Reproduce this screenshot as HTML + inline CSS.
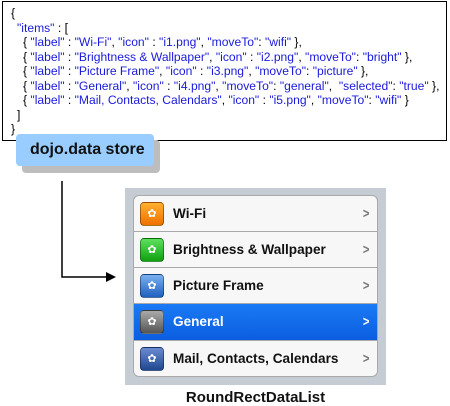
<!DOCTYPE html>
<html><head><style>
body{margin:0;width:450px;height:406px;background:#fff;position:relative;font-family:"Liberation Sans",sans-serif;overflow:hidden}
.json{position:absolute;left:2px;top:1px;width:445px;height:140px;border:1px solid #000;box-sizing:border-box;background:#fff}
.json div{position:absolute;font-size:12.1px;color:#1a1adb;white-space:pre;line-height:13px}
.json .k{color:#000}
.shadow{position:absolute;left:22px;top:140px;width:138px;height:33px;background:#bdbdbd;border-radius:4px}
.store{position:absolute;left:16px;top:134px;width:138px;height:32px;background:#99ccff;border-radius:4px;font-weight:bold;font-size:16px;line-height:32px;text-indent:14px;color:#111}
.panel{position:absolute;left:125px;top:188px;width:261px;height:197px;background:#c5ccd4}
.list{position:absolute;left:133px;top:195px;width:245px;height:182px;background:#f7f7f7;border:1px solid #a9a9a9;box-sizing:border-box;border-radius:6px;overflow:hidden}
.row{position:absolute;left:0;width:245px;height:36px;border-bottom:1px solid #a9a9a9;box-sizing:border-box}
.row span{position:absolute;left:39px;top:0;line-height:36px;font-weight:bold;font-size:13.6px;color:#111}
.row i{position:absolute;left:6px;top:6px;width:24px;height:24px;border-radius:4px;box-sizing:border-box;border:1px solid rgba(0,0,0,.35);font-style:normal;color:#fff;font-size:11px;text-align:center;line-height:22px}
.row b{position:absolute;right:9px;top:0;line-height:35px;color:#777;font-size:14px;transform:scaleX(.8)}
.sel{background:linear-gradient(#1a7af5,#0b5ee0)}
.sel span,.sel b{color:#fff}
</style></head><body>
<div class="json">
<div class="k" style="left:8px;top:5px">{</div>
<div style="left:14px;top:20px">"items"<span class="k"> : [</span></div>
<div style="left:20px;top:34px"><span class="k">{ </span>"label"<span class="k"> : </span>"Wi-Fi"<span class="k">, </span>"icon"<span class="k"> : </span>"i1.png"<span class="k">, </span>"moveTo"<span class="k">: </span>"wifi"<span class="k"> },</span></div>
<div style="left:20px;top:49px"><span class="k">{ </span>"label"<span class="k"> : </span>"Brightness &amp; Wallpaper"<span class="k">, </span>"icon"<span class="k"> : </span>"i2.png"<span class="k">, </span>"moveTo"<span class="k">: </span>"bright"<span class="k"> },</span></div>
<div style="left:20px;top:63px"><span class="k">{ </span>"label"<span class="k"> : </span>"Picture Frame"<span class="k">, </span>"icon"<span class="k"> : </span>"i3.png"<span class="k">, </span>"moveTo"<span class="k">: </span>"picture"<span class="k"> },</span></div>
<div style="left:20px;top:78px"><span class="k">{ </span>"label"<span class="k"> : </span>"General"<span class="k">, </span>"icon"<span class="k"> : </span>"i4.png"<span class="k">, </span>"moveTo"<span class="k">: </span>"general"<span class="k">,  </span>"selected"<span class="k">: </span>"true"<span class="k"> },</span></div>
<div style="left:20px;top:92px"><span class="k">{ </span>"label"<span class="k"> : </span>"Mail, Contacts, Calendars"<span class="k">, </span>"icon"<span class="k"> : </span>"i5.png"<span class="k">, </span>"moveTo"<span class="k">: </span>"wifi"<span class="k"> }</span></div>
<div class="k" style="left:14px;top:107px">]</div>
<div class="k" style="left:8px;top:121px">}</div>
</div>
<div class="shadow"></div>
<div class="store">dojo.data store</div>
<svg style="position:absolute;left:0;top:0" width="450" height="406">
<path d="M62 181 V277 H108" stroke="#000" stroke-width="1.5" fill="none"/>
<path d="M116 277 L106 272 L106 282 Z" fill="#000"/>
</svg>
<div class="panel"></div>
<div class="list">
<div class="row" style="top:0"><i style="background:linear-gradient(#ffb030,#f07000)">✿</i><span>Wi-Fi</span><b>&gt;</b></div>
<div class="row" style="top:36px"><i style="background:linear-gradient(#5ee05e,#10a010)">✿</i><span>Brightness &amp; Wallpaper</span><b>&gt;</b></div>
<div class="row" style="top:72px"><i style="background:linear-gradient(#7ab0f0,#2060c0)">✿</i><span>Picture Frame</span><b>&gt;</b></div>
<div class="row sel" style="top:108px;height:37px"><i style="background:linear-gradient(#aaa,#555)">✿</i><span>General</span><b>&gt;</b></div>
<div class="row" style="top:145px;border:none"><i style="background:linear-gradient(#6a8ad0,#204890)">✿</i><span>Mail, Contacts, Calendars</span><b>&gt;</b></div>
</div>
<div style="position:absolute;left:125px;top:389px;width:261px;text-align:center;font-weight:bold;font-size:15px;color:#111">RoundRectDataList</div>
</body></html>
